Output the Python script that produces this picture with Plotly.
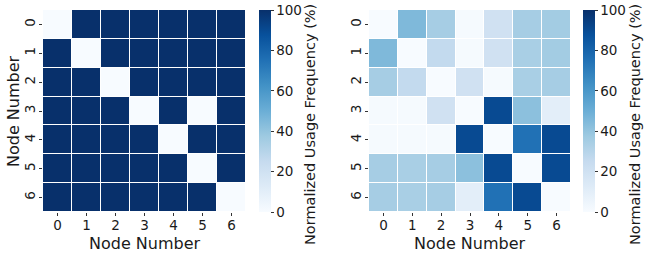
import plotly.graph_objects as go

nodes = [0, 1, 2, 3, 4, 5, 6]
tick_labels = ["0", "1", "2", "3", "4", "5", "6"]
cbar_ticks = [0, 20, 40, 60, 80, 100]
axis_title = "Node Number"
cbar_title = "Normalized Usage Frequency (%)"

left_values = [
    [0, 100, 100, 100, 100, 100, 100],
    [100, 0, 100, 100, 100, 100, 100],
    [100, 100, 0, 100, 100, 100, 100],
    [100, 100, 100, 0, 100, 0, 100],
    [100, 100, 100, 100, 0, 100, 100],
    [100, 100, 100, 100, 100, 0, 100],
    [100, 100, 100, 100, 100, 100, 0],
]

right_values = [
    [0, 45, 35, 1, 20, 35, 36],
    [45, 0, 26, 1, 20, 34, 36],
    [35, 26, 0, 20, 1, 34, 35],
    [1, 1, 20, 0, 90, 42, 10],
    [1, 1, 1, 90, 0, 75, 90],
    [35, 34, 35, 42, 90, 0, 90],
    [35, 34, 35, 10, 75, 90, 0],
]

blues = [
    [0.0, "#f7fbff"], [0.125, "#deebf7"], [0.25, "#c6dbef"], [0.375, "#9ecae1"],
    [0.5, "#6baed6"], [0.625, "#4292c6"], [0.75, "#2171b5"], [0.875, "#08519c"],
    [1.0, "#08306b"],
]

W, H = 648, 256
font = "DejaVu Sans"
txt = "#1a1a1a"


def px(x):
    return x / W


def py(y):
    return 1 - y / H


top, bottom = 10, 212
panels = [
    (left_values, "x", "y", 43, 246, 259, 310),
    (right_values, "x2", "y2", 369, 571, 583, 635),
]

fig = go.Figure()
annotations = []
for vals, xa, ya, x0, x1, cbx, cbt in panels:
    fig.add_trace(go.Heatmap(
        z=vals, x=nodes, y=nodes, xaxis=xa, yaxis=ya,
        colorscale=blues, zmin=0, zmax=100, xgap=1, ygap=1,
        colorbar=dict(
            x=px(cbx), xanchor="left", y=(py(top) + py(bottom)) / 2, yanchor="middle",
            len=py(top) - py(bottom), lenmode="fraction", thickness=12, xpad=0, ypad=0,
            outlinewidth=0, ticks="outside", ticklen=3, tickcolor="#333",
            tickvals=cbar_ticks,
            tickfont=dict(family=font, size=13.5, color=txt),
        ),
    ))
    annotations.append(dict(
        text=cbar_title, x=px(cbt), y=py(125), xref="paper", yref="paper",
        textangle=-90, showarrow=False, xanchor="center", yanchor="middle",
        font=dict(family=font, size=14.5, color=txt),
    ))
    annotations.append(dict(
        text=axis_title, x=px((x0 + x1) / 2), y=py(243), xref="paper", yref="paper",
        showarrow=False, xanchor="center", yanchor="middle",
        font=dict(family=font, size=16, color=txt),
    ))

annotations.append(dict(
    text=axis_title, x=px(13), y=py((top + bottom) / 2), xref="paper", yref="paper",
    textangle=-90, showarrow=False, xanchor="center", yanchor="middle",
    font=dict(family=font, size=16, color=txt),
))

axis_common = dict(
    tickmode="array", tickvals=nodes, ticktext=tick_labels,
    ticks="outside", ticklen=3, tickcolor="#333", showgrid=False, zeroline=False,
    tickfont=dict(family=font, size=13.5, color=txt),
    showline=False, automargin=False,
)

fig.update_layout(
    width=W, height=H, margin=dict(l=0, r=0, t=0, b=0, autoexpand=False),
    paper_bgcolor="white", plot_bgcolor="white", showlegend=False,
    annotations=annotations,
    xaxis=dict(domain=[px(43), px(246)], anchor="y", range=[-0.5, 6.5],
               ticklabelstandoff=-2, **axis_common),
    yaxis=dict(domain=[py(bottom), py(top)], anchor="x", range=[6.5, -0.5],
               tickangle=-90, ticklabelstandoff=-1, **axis_common),
    xaxis2=dict(domain=[px(369), px(571)], anchor="y2", range=[-0.5, 6.5],
                ticklabelstandoff=-2, **axis_common),
    yaxis2=dict(domain=[py(bottom), py(top)], anchor="x2", range=[6.5, -0.5],
                tickangle=-90, ticklabelstandoff=-1, **axis_common),
)

fig.write_html("out.html", config={"displayModeBar": False},
               post_script="document.body.style.margin='0';document.body.style.overflow='hidden';")
